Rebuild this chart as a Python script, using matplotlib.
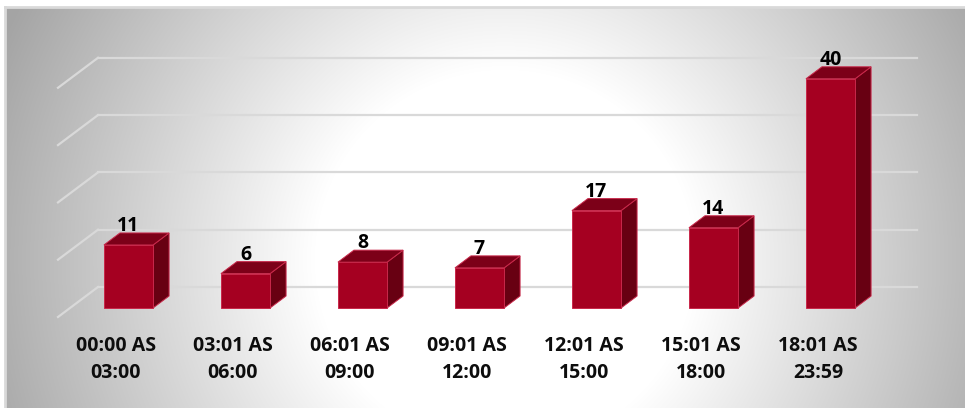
import numpy as np
import matplotlib.pyplot as plt
from matplotlib.patches import Polygon, Rectangle

# data
periodos = ["00:00 AS\n03:00", "03:01 AS\n06:00", "06:01 AS\n09:00", "09:01 AS\n12:00",
            "12:01 AS\n15:00", "15:01 AS\n18:00", "18:01 AS\n23:59"]
valores = [11, 6, 8, 7, 17, 14, 40]
grade = [0, 10, 20, 30, 40]

W, H = 965, 408
fig = plt.figure(figsize=(W / 100, H / 100), dpi=100)

# fundo com gradiente radial (branco no centro, cinza nas bordas)
bg = fig.add_axes([0, 0, 1, 1])
bg.set_xlim(0, W)
bg.set_ylim(H, 0)
bg.axis("off")
xx, yy = np.meshgrid(np.arange(5, W) + 0.5, np.arange(7, H) + 0.5)
d = np.hypot(xx - 505, yy - 260) / 500.0
t = np.clip((d - 0.38) / 0.72, 0, 1)
cor = 255 - (255 - 164) * t
img = np.dstack([cor, cor, cor]) / 255.0
bg.imshow(img, extent=(5, W, H, 7), aspect="auto", interpolation="bilinear")
bg.plot([5, W], [7, 7], color="#d9d9d9", lw=2)
bg.plot([5, 5], [7, H], color="#d9d9d9", lw=2)

# eixo principal em unidades de categoria / valor
ax = fig.add_axes([0, 0, 1, 1])
ax.patch.set_alpha(0)
ax.axis("off")
ax.set_xlim(-128.5 / 117, (W - 128.5) / 117)
ax.set_ylim((308 - H) / 5.73, 308 / 5.73)

# profundidade 3D (da borda da frente ate a parede do fundo)
pdx, pdy = 40 / 117, 30 / 5.73
wdx, wdy = 0.7 * pdx, 0.7 * pdy
fdx, fdy = 0.3 * pdx, 0.3 * pdy
bdx, bdy = 0.4 * pdx, 0.4 * pdy
n = len(valores)

for g in grade:
    ax.plot([-0.5 + wdx, n - 0.5 + wdx], [g + wdy, g + wdy], color="#d9d9d9", lw=1.6, zorder=1)
    ax.plot([-0.5 - fdx, -0.5 + wdx], [g - fdy, g + wdy], color="#d9d9d9", lw=1.6, zorder=1)

w = 0.21
for i, v in enumerate(valores):
    frente = Rectangle((i - w, 0), 2 * w, v, facecolor="#a50021", edgecolor="#c8284a", lw=0.7, zorder=3)
    topo = Polygon([(i - w, v), (i + w, v), (i + w + bdx, v + bdy), (i - w + bdx, v + bdy)],
                   facecolor="#7c0018", edgecolor="#c8284a", lw=0.7, zorder=3)
    lado = Polygon([(i + w, 0), (i + w, v), (i + w + bdx, v + bdy), (i + w + bdx, bdy)],
                   facecolor="#680012", edgecolor="#c8284a", lw=0.7, zorder=2)
    ax.add_patch(lado)
    ax.add_patch(frente)
    ax.add_patch(topo)
    ax.text(i, v + bdy + 0.3, str(v), ha="center", va="baseline", fontsize=14,
            fontweight="bold", family="Open Sans", color="#000000", zorder=4)
    ax.text(i - 0.107, -9.0, periodos[i], ha="center", va="center", fontsize=14,
            fontweight="bold", family="Open Sans", color="#0d0d0d", linespacing=1.45, zorder=4)

fig.savefig("out.png", dpi=100)
